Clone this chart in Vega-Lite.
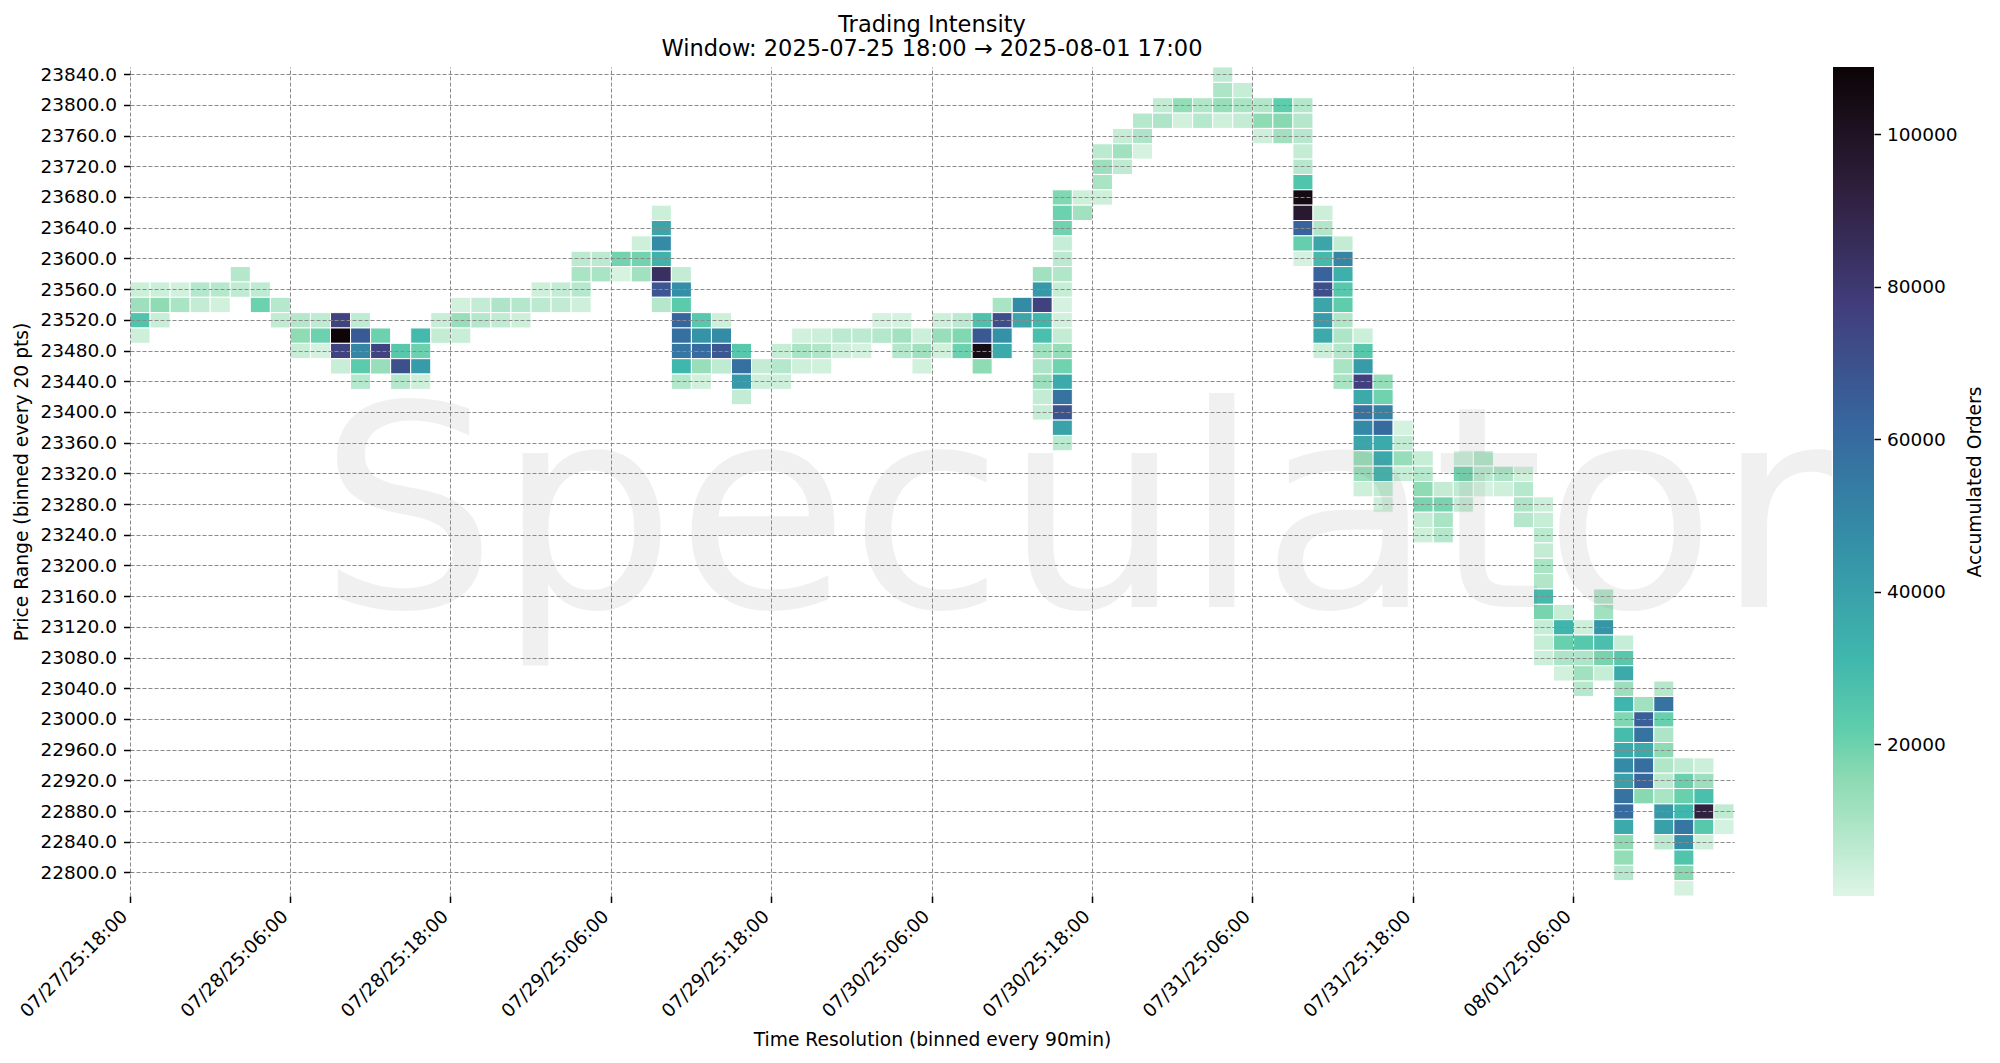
{
  "$schema": "https://vega.github.io/schema/vega-lite/v6.json",
  "autosize": "pad",
  "padding": {"left": 12, "top": 13, "right": 0, "bottom": 0},
  "background": "white",
  "bounds": "flush",
  "spacing": 99,
  "config": {
    "font": "DejaVu Sans",
    "view": {"stroke": null},
    "axis": {
      "labelFontSize": 18.5,
      "titleFontSize": 18.7,
      "titleFontWeight": "normal",
      "labelColor": "black",
      "titleColor": "black",
      "tickColor": "black",
      "tickSize": 6.5,
      "tickWidth": 1.5,
      "domain": false
    }
  },
  "hconcat": [
    {
      "width": 1604,
      "height": 829,
      "title": {
        "text": ["Trading Intensity", "Window: 2025-07-25 18:00 → 2025-08-01 17:00"],
        "fontSize": 22.5,
        "fontWeight": "normal",
        "anchor": "middle",
        "lineHeight": 24.5,
        "offset": 4.5,
        "color": "black"
      },
      "encoding": {
        "x": {
          "field": "t",
          "type": "ordinal",
          "title": "Time Resolution (binned every 90min)",
          "scale": {
            "paddingInner": 0,
            "paddingOuter": 0,
            "domain": [
              "07/27/25:18:00","07/27/25:19:30","07/27/25:21:00","07/27/25:22:30",
              "07/28/25:00:00","07/28/25:01:30","07/28/25:03:00","07/28/25:04:30","07/28/25:06:00","07/28/25:07:30","07/28/25:09:00","07/28/25:10:30","07/28/25:12:00","07/28/25:13:30","07/28/25:15:00","07/28/25:16:30","07/28/25:18:00","07/28/25:19:30","07/28/25:21:00","07/28/25:22:30",
              "07/29/25:00:00","07/29/25:01:30","07/29/25:03:00","07/29/25:04:30","07/29/25:06:00","07/29/25:07:30","07/29/25:09:00","07/29/25:10:30","07/29/25:12:00","07/29/25:13:30","07/29/25:15:00","07/29/25:16:30","07/29/25:18:00","07/29/25:19:30","07/29/25:21:00","07/29/25:22:30",
              "07/30/25:00:00","07/30/25:01:30","07/30/25:03:00","07/30/25:04:30","07/30/25:06:00","07/30/25:07:30","07/30/25:09:00","07/30/25:10:30","07/30/25:12:00","07/30/25:13:30","07/30/25:15:00","07/30/25:16:30","07/30/25:18:00","07/30/25:19:30","07/30/25:21:00","07/30/25:22:30",
              "07/31/25:00:00","07/31/25:01:30","07/31/25:03:00","07/31/25:04:30","07/31/25:06:00","07/31/25:07:30","07/31/25:09:00","07/31/25:10:30","07/31/25:12:00","07/31/25:13:30","07/31/25:15:00","07/31/25:16:30","07/31/25:18:00","07/31/25:19:30","07/31/25:21:00","07/31/25:22:30",
              "08/01/25:00:00","08/01/25:01:30","08/01/25:03:00","08/01/25:04:30","08/01/25:06:00","08/01/25:07:30","08/01/25:09:00","08/01/25:10:30","08/01/25:12:00","08/01/25:13:30","08/01/25:15:00","08/01/25:16:30"
            ]
          },
          "axis": {
            "values": ["07/27/25:18:00","07/28/25:06:00","07/28/25:18:00","07/29/25:06:00","07/29/25:18:00","07/30/25:06:00","07/30/25:18:00","07/31/25:06:00","07/31/25:18:00","08/01/25:06:00"],
            "bandPosition": 0,
            "labelAngle": -45,
            "labelAlign": "right",
            "labelBaseline": "top",
            "labelPadding": 4,
            "labelOffset": -22,
            "labelOverlap": false,
            "labelFlush": false,
            "labelBound": false,
            "grid": true,
            "gridColor": "#8a8a8a",
            "gridDash": [4, 2],
            "gridWidth": 1,
            "titlePadding": 10,
            "zindex": 1
          }
        },
        "y": {
          "field": "p",
          "type": "ordinal",
          "title": "Price Range (binned every 20 pts)",
          "scale": {
            "paddingInner": 0,
            "paddingOuter": 0,
            "domain": [23840,23820,23800,23780,23760,23740,23720,23700,23680,23660,23640,23620,23600,23580,23560,23540,23520,23500,23480,23460,23440,23420,23400,23380,23360,23340,23320,23300,23280,23260,23240,23220,23200,23180,23160,23140,23120,23100,23080,23060,23040,23020,23000,22980,22960,22940,22920,22900,22880,22860,22840,22820,22800,22780]
          },
          "axis": {
            "values": [23840,23800,23760,23720,23680,23640,23600,23560,23520,23480,23440,23400,23360,23320,23280,23240,23200,23160,23120,23080,23040,23000,22960,22920,22880,22840,22800],
            "labelExpr": "format(datum.value, '.1f')",
            "labelOverlap": false,
            "labelAngle": 0,
            "labelPadding": 7,
            "grid": true,
            "gridColor": "#8a8a8a",
            "gridDash": [4, 2],
            "gridWidth": 1,
            "titlePadding": 8,
            "zindex": 1
          }
        }
      },
      "layer": [
        {
          "data": {
            "values": [
              {"t":"07/27/25:18:00","p":23560,"v":3500},{"t":"07/27/25:18:00","p":23540,"v":12000},{"t":"07/27/25:18:00","p":23520,"v":26000},{"t":"07/27/25:18:00","p":23500,"v":3000},
              {"t":"07/27/25:19:30","p":23560,"v":3500},{"t":"07/27/25:19:30","p":23540,"v":15000},{"t":"07/27/25:19:30","p":23520,"v":4000},
              {"t":"07/27/25:21:00","p":23560,"v":2500},{"t":"07/27/25:21:00","p":23540,"v":10000},
              {"t":"07/27/25:22:30","p":23560,"v":8000},{"t":"07/27/25:22:30","p":23540,"v":5000},
              {"t":"07/28/25:00:00","p":23560,"v":7500},{"t":"07/28/25:00:00","p":23540,"v":2500},
              {"t":"07/28/25:01:30","p":23580,"v":8000},{"t":"07/28/25:01:30","p":23560,"v":6000},
              {"t":"07/28/25:03:00","p":23560,"v":6000},{"t":"07/28/25:03:00","p":23540,"v":20000},
              {"t":"07/28/25:04:30","p":23540,"v":7500},{"t":"07/28/25:04:30","p":23520,"v":5500},
              {"t":"07/28/25:06:00","p":23520,"v":8000},{"t":"07/28/25:06:00","p":23500,"v":15000},{"t":"07/28/25:06:00","p":23480,"v":4000},
              {"t":"07/28/25:07:30","p":23520,"v":6000},{"t":"07/28/25:07:30","p":23500,"v":20000},{"t":"07/28/25:07:30","p":23480,"v":2000},
              {"t":"07/28/25:09:00","p":23520,"v":75000},{"t":"07/28/25:09:00","p":23500,"v":108000},{"t":"07/28/25:09:00","p":23480,"v":75000},{"t":"07/28/25:09:00","p":23460,"v":4000},
              {"t":"07/28/25:10:30","p":23520,"v":6000},{"t":"07/28/25:10:30","p":23500,"v":66000},{"t":"07/28/25:10:30","p":23480,"v":50000},{"t":"07/28/25:10:30","p":23460,"v":23000},{"t":"07/28/25:10:30","p":23440,"v":7500},
              {"t":"07/28/25:12:00","p":23500,"v":20000},{"t":"07/28/25:12:00","p":23480,"v":75000},{"t":"07/28/25:12:00","p":23460,"v":13000},
              {"t":"07/28/25:13:30","p":23480,"v":24000},{"t":"07/28/25:13:30","p":23460,"v":70000},{"t":"07/28/25:13:30","p":23440,"v":8000},
              {"t":"07/28/25:15:00","p":23500,"v":30000},{"t":"07/28/25:15:00","p":23480,"v":20000},{"t":"07/28/25:15:00","p":23460,"v":42000},{"t":"07/28/25:15:00","p":23440,"v":3000},
              {"t":"07/28/25:16:30","p":23520,"v":4000},{"t":"07/28/25:16:30","p":23500,"v":5000},
              {"t":"07/28/25:18:00","p":23540,"v":2500},{"t":"07/28/25:18:00","p":23520,"v":13000},{"t":"07/28/25:18:00","p":23500,"v":4000},
              {"t":"07/28/25:19:30","p":23540,"v":5000},{"t":"07/28/25:19:30","p":23520,"v":8000},
              {"t":"07/28/25:21:00","p":23540,"v":9000},{"t":"07/28/25:21:00","p":23520,"v":5500},
              {"t":"07/28/25:22:30","p":23540,"v":8000},{"t":"07/28/25:22:30","p":23520,"v":3000},
              {"t":"07/29/25:00:00","p":23560,"v":3000},{"t":"07/29/25:00:00","p":23540,"v":6500},
              {"t":"07/29/25:01:30","p":23560,"v":5000},{"t":"07/29/25:01:30","p":23540,"v":5500},
              {"t":"07/29/25:03:00","p":23600,"v":6500},{"t":"07/29/25:03:00","p":23580,"v":10000},{"t":"07/29/25:03:00","p":23560,"v":7500},{"t":"07/29/25:03:00","p":23540,"v":3000},
              {"t":"07/29/25:04:30","p":23600,"v":6500},{"t":"07/29/25:04:30","p":23580,"v":10000},
              {"t":"07/29/25:06:00","p":23600,"v":19000},{"t":"07/29/25:06:00","p":23580,"v":1500},
              {"t":"07/29/25:07:30","p":23620,"v":3000},{"t":"07/29/25:07:30","p":23600,"v":19000},{"t":"07/29/25:07:30","p":23580,"v":11500},
              {"t":"07/29/25:09:00","p":23660,"v":3500},{"t":"07/29/25:09:00","p":23640,"v":38000},{"t":"07/29/25:09:00","p":23620,"v":48000},{"t":"07/29/25:09:00","p":23600,"v":33000},{"t":"07/29/25:09:00","p":23580,"v":84000},{"t":"07/29/25:09:00","p":23560,"v":68000},{"t":"07/29/25:09:00","p":23540,"v":8000},
              {"t":"07/29/25:10:30","p":23580,"v":5000},{"t":"07/29/25:10:30","p":23560,"v":47000},{"t":"07/29/25:10:30","p":23540,"v":23000},{"t":"07/29/25:10:30","p":23520,"v":62000},{"t":"07/29/25:10:30","p":23500,"v":58000},{"t":"07/29/25:10:30","p":23480,"v":56000},{"t":"07/29/25:10:30","p":23460,"v":31000},{"t":"07/29/25:10:30","p":23440,"v":8000},
              {"t":"07/29/25:12:00","p":23520,"v":24000},{"t":"07/29/25:12:00","p":23500,"v":45000},{"t":"07/29/25:12:00","p":23480,"v":60000},{"t":"07/29/25:12:00","p":23460,"v":13000},{"t":"07/29/25:12:00","p":23440,"v":2500},
              {"t":"07/29/25:13:30","p":23520,"v":3000},{"t":"07/29/25:13:30","p":23500,"v":48000},{"t":"07/29/25:13:30","p":23480,"v":68000},{"t":"07/29/25:13:30","p":23460,"v":6000},
              {"t":"07/29/25:15:00","p":23480,"v":24000},{"t":"07/29/25:15:00","p":23460,"v":58000},{"t":"07/29/25:15:00","p":23440,"v":43000},{"t":"07/29/25:15:00","p":23420,"v":5000},
              {"t":"07/29/25:16:30","p":23460,"v":5000},{"t":"07/29/25:16:30","p":23440,"v":3000},
              {"t":"07/29/25:18:00","p":23480,"v":4500},{"t":"07/29/25:18:00","p":23460,"v":8000},{"t":"07/29/25:18:00","p":23440,"v":3000},
              {"t":"07/29/25:19:30","p":23500,"v":2500},{"t":"07/29/25:19:30","p":23480,"v":10000},{"t":"07/29/25:19:30","p":23460,"v":3000},
              {"t":"07/29/25:21:00","p":23500,"v":3500},{"t":"07/29/25:21:00","p":23480,"v":8500},{"t":"07/29/25:21:00","p":23460,"v":2500},
              {"t":"07/29/25:22:30","p":23500,"v":6500},{"t":"07/29/25:22:30","p":23480,"v":3000},
              {"t":"07/30/25:00:00","p":23500,"v":6500},{"t":"07/30/25:00:00","p":23480,"v":2000},
              {"t":"07/30/25:01:30","p":23520,"v":2000},{"t":"07/30/25:01:30","p":23500,"v":8000},
              {"t":"07/30/25:03:00","p":23520,"v":2000},{"t":"07/30/25:03:00","p":23500,"v":11000},{"t":"07/30/25:03:00","p":23480,"v":8000},
              {"t":"07/30/25:04:30","p":23500,"v":3500},{"t":"07/30/25:04:30","p":23480,"v":11500},{"t":"07/30/25:04:30","p":23460,"v":2500},
              {"t":"07/30/25:06:00","p":23520,"v":3000},{"t":"07/30/25:06:00","p":23500,"v":13000},{"t":"07/30/25:06:00","p":23480,"v":2500},
              {"t":"07/30/25:07:30","p":23520,"v":6500},{"t":"07/30/25:07:30","p":23500,"v":17000},{"t":"07/30/25:07:30","p":23480,"v":20000},
              {"t":"07/30/25:09:00","p":23520,"v":27000},{"t":"07/30/25:09:00","p":23500,"v":67000},{"t":"07/30/25:09:00","p":23480,"v":104000},{"t":"07/30/25:09:00","p":23460,"v":15000},
              {"t":"07/30/25:10:30","p":23540,"v":10000},{"t":"07/30/25:10:30","p":23520,"v":71000},{"t":"07/30/25:10:30","p":23500,"v":46000},{"t":"07/30/25:10:30","p":23480,"v":36000},
              {"t":"07/30/25:12:00","p":23540,"v":48000},{"t":"07/30/25:12:00","p":23520,"v":38000},
              {"t":"07/30/25:13:30","p":23580,"v":11500},{"t":"07/30/25:13:30","p":23560,"v":43000},{"t":"07/30/25:13:30","p":23540,"v":76000},{"t":"07/30/25:13:30","p":23520,"v":31000},{"t":"07/30/25:13:30","p":23500,"v":28000},{"t":"07/30/25:13:30","p":23480,"v":11500},{"t":"07/30/25:13:30","p":23460,"v":9000},{"t":"07/30/25:13:30","p":23440,"v":12500},{"t":"07/30/25:13:30","p":23420,"v":5000},{"t":"07/30/25:13:30","p":23400,"v":4500},
              {"t":"07/30/25:15:00","p":23680,"v":17000},{"t":"07/30/25:15:00","p":23660,"v":20000},{"t":"07/30/25:15:00","p":23640,"v":19500},{"t":"07/30/25:15:00","p":23620,"v":4500},{"t":"07/30/25:15:00","p":23600,"v":6500},{"t":"07/30/25:15:00","p":23580,"v":8500},{"t":"07/30/25:15:00","p":23560,"v":4500},{"t":"07/30/25:15:00","p":23540,"v":2000},{"t":"07/30/25:15:00","p":23520,"v":2500},{"t":"07/30/25:15:00","p":23500,"v":5000},{"t":"07/30/25:15:00","p":23480,"v":13500},{"t":"07/30/25:15:00","p":23460,"v":19500},{"t":"07/30/25:15:00","p":23440,"v":36000},{"t":"07/30/25:15:00","p":23420,"v":57000},{"t":"07/30/25:15:00","p":23400,"v":69000},{"t":"07/30/25:15:00","p":23380,"v":39000},{"t":"07/30/25:15:00","p":23360,"v":6500},
              {"t":"07/30/25:16:30","p":23680,"v":3000},{"t":"07/30/25:16:30","p":23660,"v":11500},
              {"t":"07/30/25:18:00","p":23740,"v":6500},{"t":"07/30/25:18:00","p":23720,"v":12500},{"t":"07/30/25:18:00","p":23700,"v":10000},{"t":"07/30/25:18:00","p":23680,"v":3000},
              {"t":"07/30/25:19:30","p":23760,"v":4500},{"t":"07/30/25:19:30","p":23740,"v":11500},{"t":"07/30/25:19:30","p":23720,"v":6000},
              {"t":"07/30/25:21:00","p":23780,"v":7500},{"t":"07/30/25:21:00","p":23760,"v":9000},{"t":"07/30/25:21:00","p":23740,"v":2000},
              {"t":"07/30/25:22:30","p":23800,"v":5000},{"t":"07/30/25:22:30","p":23780,"v":9000},
              {"t":"07/31/25:00:00","p":23800,"v":14000},{"t":"07/31/25:00:00","p":23780,"v":2500},
              {"t":"07/31/25:01:30","p":23800,"v":8500},{"t":"07/31/25:01:30","p":23780,"v":7500},
              {"t":"07/31/25:03:00","p":23840,"v":6000},{"t":"07/31/25:03:00","p":23820,"v":9000},{"t":"07/31/25:03:00","p":23800,"v":13000},{"t":"07/31/25:03:00","p":23780,"v":3000},
              {"t":"07/31/25:04:30","p":23820,"v":4500},{"t":"07/31/25:04:30","p":23800,"v":10000},{"t":"07/31/25:04:30","p":23780,"v":5000},
              {"t":"07/31/25:06:00","p":23800,"v":8500},{"t":"07/31/25:06:00","p":23780,"v":15000},{"t":"07/31/25:06:00","p":23760,"v":3000},
              {"t":"07/31/25:07:30","p":23800,"v":22000},{"t":"07/31/25:07:30","p":23780,"v":16000},{"t":"07/31/25:07:30","p":23760,"v":11500},
              {"t":"07/31/25:09:00","p":23800,"v":8000},{"t":"07/31/25:09:00","p":23780,"v":8000},{"t":"07/31/25:09:00","p":23760,"v":7500},{"t":"07/31/25:09:00","p":23740,"v":5000},{"t":"07/31/25:09:00","p":23720,"v":7500},{"t":"07/31/25:09:00","p":23700,"v":26000},{"t":"07/31/25:09:00","p":23680,"v":105000},{"t":"07/31/25:09:00","p":23660,"v":96000},{"t":"07/31/25:09:00","p":23640,"v":63000},{"t":"07/31/25:09:00","p":23620,"v":21000},{"t":"07/31/25:09:00","p":23600,"v":2000},
              {"t":"07/31/25:10:30","p":23660,"v":3500},{"t":"07/31/25:10:30","p":23640,"v":8500},{"t":"07/31/25:10:30","p":23620,"v":38000},{"t":"07/31/25:10:30","p":23600,"v":30000},{"t":"07/31/25:10:30","p":23580,"v":63000},{"t":"07/31/25:10:30","p":23560,"v":71000},{"t":"07/31/25:10:30","p":23540,"v":38000},{"t":"07/31/25:10:30","p":23520,"v":42000},{"t":"07/31/25:10:30","p":23500,"v":36000},{"t":"07/31/25:10:30","p":23480,"v":3500},
              {"t":"07/31/25:12:00","p":23620,"v":5000},{"t":"07/31/25:12:00","p":23600,"v":50000},{"t":"07/31/25:12:00","p":23580,"v":34000},{"t":"07/31/25:12:00","p":23560,"v":24000},{"t":"07/31/25:12:00","p":23540,"v":22000},{"t":"07/31/25:12:00","p":23520,"v":8500},{"t":"07/31/25:12:00","p":23500,"v":9000},{"t":"07/31/25:12:00","p":23480,"v":8000},{"t":"07/31/25:12:00","p":23460,"v":10000},{"t":"07/31/25:12:00","p":23440,"v":10000},
              {"t":"07/31/25:13:30","p":23500,"v":3500},{"t":"07/31/25:13:30","p":23480,"v":24000},{"t":"07/31/25:13:30","p":23460,"v":42000},{"t":"07/31/25:13:30","p":23440,"v":77000},{"t":"07/31/25:13:30","p":23420,"v":36000},{"t":"07/31/25:13:30","p":23400,"v":57000},{"t":"07/31/25:13:30","p":23380,"v":49000},{"t":"07/31/25:13:30","p":23360,"v":38000},{"t":"07/31/25:13:30","p":23340,"v":13000},{"t":"07/31/25:13:30","p":23320,"v":12500},{"t":"07/31/25:13:30","p":23300,"v":3000},
              {"t":"07/31/25:15:00","p":23440,"v":13500},{"t":"07/31/25:15:00","p":23420,"v":19500},{"t":"07/31/25:15:00","p":23400,"v":51000},{"t":"07/31/25:15:00","p":23380,"v":60000},{"t":"07/31/25:15:00","p":23360,"v":36000},{"t":"07/31/25:15:00","p":23340,"v":37000},{"t":"07/31/25:15:00","p":23320,"v":32000},{"t":"07/31/25:15:00","p":23300,"v":5500},{"t":"07/31/25:15:00","p":23280,"v":3000},
              {"t":"07/31/25:16:30","p":23380,"v":2000},{"t":"07/31/25:16:30","p":23360,"v":5000},{"t":"07/31/25:16:30","p":23340,"v":13500},{"t":"07/31/25:16:30","p":23320,"v":4500},
              {"t":"07/31/25:18:00","p":23340,"v":4500},{"t":"07/31/25:18:00","p":23320,"v":7500},{"t":"07/31/25:18:00","p":23300,"v":15000},{"t":"07/31/25:18:00","p":23280,"v":18500},{"t":"07/31/25:18:00","p":23260,"v":5000},{"t":"07/31/25:18:00","p":23240,"v":3000},
              {"t":"07/31/25:19:30","p":23300,"v":5000},{"t":"07/31/25:19:30","p":23280,"v":18500},{"t":"07/31/25:19:30","p":23260,"v":10000},{"t":"07/31/25:19:30","p":23240,"v":8000},
              {"t":"07/31/25:21:00","p":23340,"v":4000},{"t":"07/31/25:21:00","p":23320,"v":19000},{"t":"07/31/25:21:00","p":23300,"v":6000},{"t":"07/31/25:21:00","p":23280,"v":5000},
              {"t":"07/31/25:22:30","p":23340,"v":8500},{"t":"07/31/25:22:30","p":23320,"v":7000},{"t":"07/31/25:22:30","p":23300,"v":2000},
              {"t":"08/01/25:00:00","p":23320,"v":9000},{"t":"08/01/25:00:00","p":23300,"v":3000},
              {"t":"08/01/25:01:30","p":23320,"v":2500},{"t":"08/01/25:01:30","p":23300,"v":7500},{"t":"08/01/25:01:30","p":23280,"v":9000},{"t":"08/01/25:01:30","p":23260,"v":8000},
              {"t":"08/01/25:03:00","p":23280,"v":3500},{"t":"08/01/25:03:00","p":23260,"v":4500},{"t":"08/01/25:03:00","p":23240,"v":6500},{"t":"08/01/25:03:00","p":23220,"v":5000},{"t":"08/01/25:03:00","p":23200,"v":10000},{"t":"08/01/25:03:00","p":23180,"v":8500},{"t":"08/01/25:03:00","p":23160,"v":30000},{"t":"08/01/25:03:00","p":23140,"v":18500},{"t":"08/01/25:03:00","p":23120,"v":4500},{"t":"08/01/25:03:00","p":23100,"v":4500},{"t":"08/01/25:03:00","p":23080,"v":3500},
              {"t":"08/01/25:04:30","p":23140,"v":4500},{"t":"08/01/25:04:30","p":23120,"v":32000},{"t":"08/01/25:04:30","p":23100,"v":20500},{"t":"08/01/25:04:30","p":23080,"v":9000},{"t":"08/01/25:04:30","p":23060,"v":2500},
              {"t":"08/01/25:06:00","p":23120,"v":3000},{"t":"08/01/25:06:00","p":23100,"v":24000},{"t":"08/01/25:06:00","p":23080,"v":9000},{"t":"08/01/25:06:00","p":23060,"v":11500},{"t":"08/01/25:06:00","p":23040,"v":7500},
              {"t":"08/01/25:07:30","p":23160,"v":8500},{"t":"08/01/25:07:30","p":23140,"v":11500},{"t":"08/01/25:07:30","p":23120,"v":44000},{"t":"08/01/25:07:30","p":23100,"v":28000},{"t":"08/01/25:07:30","p":23080,"v":18500},{"t":"08/01/25:07:30","p":23060,"v":4500},
              {"t":"08/01/25:09:00","p":23100,"v":4500},{"t":"08/01/25:09:00","p":23080,"v":24000},{"t":"08/01/25:09:00","p":23060,"v":36000},{"t":"08/01/25:09:00","p":23040,"v":12500},{"t":"08/01/25:09:00","p":23020,"v":32000},{"t":"08/01/25:09:00","p":23000,"v":17000},{"t":"08/01/25:09:00","p":22980,"v":29000},{"t":"08/01/25:09:00","p":22960,"v":36000},{"t":"08/01/25:09:00","p":22940,"v":48000},{"t":"08/01/25:09:00","p":22920,"v":40000},{"t":"08/01/25:09:00","p":22900,"v":57000},{"t":"08/01/25:09:00","p":22880,"v":60000},{"t":"08/01/25:09:00","p":22860,"v":36000},{"t":"08/01/25:09:00","p":22840,"v":15000},{"t":"08/01/25:09:00","p":22820,"v":14000},{"t":"08/01/25:09:00","p":22800,"v":7500},
              {"t":"08/01/25:10:30","p":23020,"v":11500},{"t":"08/01/25:10:30","p":23000,"v":65000},{"t":"08/01/25:10:30","p":22980,"v":57000},{"t":"08/01/25:10:30","p":22960,"v":36000},{"t":"08/01/25:10:30","p":22940,"v":59000},{"t":"08/01/25:10:30","p":22920,"v":62000},{"t":"08/01/25:10:30","p":22900,"v":16000},
              {"t":"08/01/25:12:00","p":23040,"v":8000},{"t":"08/01/25:12:00","p":23020,"v":57000},{"t":"08/01/25:12:00","p":23000,"v":20500},{"t":"08/01/25:12:00","p":22980,"v":9000},{"t":"08/01/25:12:00","p":22960,"v":15000},{"t":"08/01/25:12:00","p":22940,"v":8500},{"t":"08/01/25:12:00","p":22920,"v":6500},{"t":"08/01/25:12:00","p":22900,"v":10000},{"t":"08/01/25:12:00","p":22880,"v":43000},{"t":"08/01/25:12:00","p":22860,"v":40000},{"t":"08/01/25:12:00","p":22840,"v":6500},
              {"t":"08/01/25:13:30","p":22940,"v":6000},{"t":"08/01/25:13:30","p":22920,"v":20500},{"t":"08/01/25:13:30","p":22900,"v":20500},{"t":"08/01/25:13:30","p":22880,"v":31000},{"t":"08/01/25:13:30","p":22860,"v":56000},{"t":"08/01/25:13:30","p":22840,"v":47000},{"t":"08/01/25:13:30","p":22820,"v":26000},{"t":"08/01/25:13:30","p":22800,"v":16000},{"t":"08/01/25:13:30","p":22780,"v":2000},
              {"t":"08/01/25:15:00","p":22940,"v":3500},{"t":"08/01/25:15:00","p":22920,"v":12500},{"t":"08/01/25:15:00","p":22900,"v":28000},{"t":"08/01/25:15:00","p":22880,"v":92000},{"t":"08/01/25:15:00","p":22860,"v":24000},{"t":"08/01/25:15:00","p":22840,"v":3000},
              {"t":"08/01/25:16:30","p":22880,"v":6000},{"t":"08/01/25:16:30","p":22860,"v":2000}
            ]
          },
          "mark": {"type": "rect", "stroke": "white", "strokeWidth": 1},
          "encoding": {
            "color": {
              "field": "v",
              "type": "quantitative",
              "legend": null,
              "scale": {
                "domain": [100, 15540, 21760, 31090, 46630, 62170, 77710, 93260, 108800],
                "range": ["#DEF5E5", "#8BDAB2", "#60CEAC", "#40B7AD", "#348FA7", "#37659E", "#413D7B", "#2E1E3B", "#0B0405"],
                "interpolate": "rgb"
              }
            }
          }
        },
        {
          "data": {"values": [{"t": "07/28/25:07:30", "p": 23140, "label": "Speculator"}]},
          "mark": {
            "type": "text",
            "font": "DejaVu Sans",
            "fontSize": 281.6,
            "color": "#808080",
            "opacity": 0.11,
            "align": "left",
            "baseline": "alphabetic",
            "dx": 8,
            "dy": -5
          },
          "encoding": {
            "x": {"field": "t", "type": "ordinal", "bandPosition": 0},
            "text": {"field": "label"}
          }
        }
      ]
    },
    {
      "width": 41,
      "height": 829,
      "data": {"values": [{"lo": 100, "hi": 108800}]},
      "mark": {
        "type": "rect",
        "color": {
          "gradient": "linear",
          "x1": 0, "y1": 1, "x2": 0, "y2": 0,
          "stops": [
            {"offset": 0, "color": "#DEF5E5"},
            {"offset": 0.1428, "color": "#8BDAB2"},
            {"offset": 0.2, "color": "#60CEAC"},
            {"offset": 0.2857, "color": "#40B7AD"},
            {"offset": 0.4286, "color": "#348FA7"},
            {"offset": 0.5714, "color": "#37659E"},
            {"offset": 0.7143, "color": "#413D7B"},
            {"offset": 0.8571, "color": "#2E1E3B"},
            {"offset": 1, "color": "#0B0405"}
          ]
        }
      },
      "encoding": {
        "y": {
          "field": "lo",
          "type": "quantitative",
          "title": "Accumulated Orders",
          "scale": {"domain": [100, 108800], "nice": false, "zero": false},
          "axis": {
            "orient": "right",
            "values": [20000, 40000, 60000, 80000, 100000],
            "format": "d",
            "grid": false,
            "labelPadding": 6,
            "titleAngle": 270,
            "titlePadding": 27
          }
        },
        "y2": {"field": "hi"}
      }
    }
  ]
}
